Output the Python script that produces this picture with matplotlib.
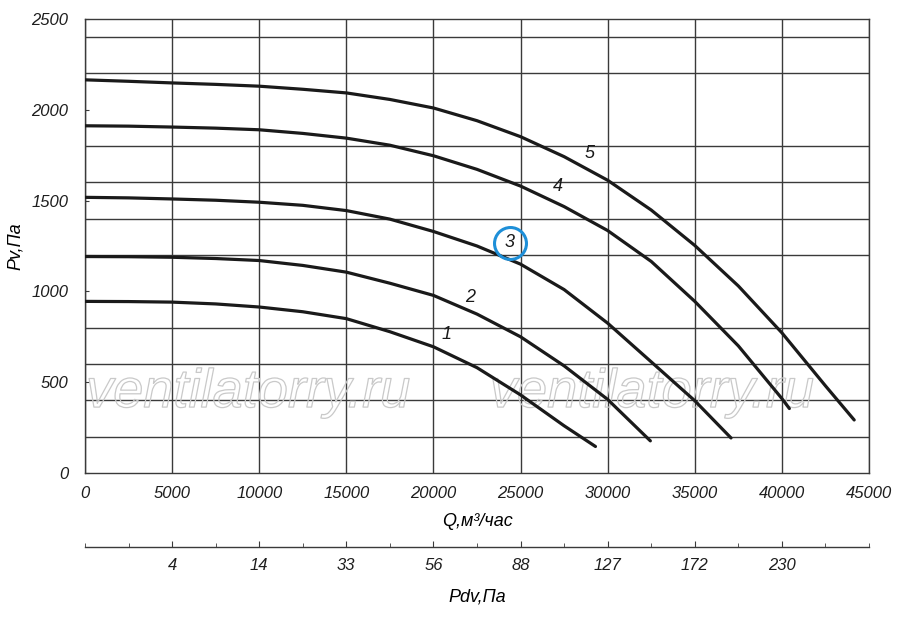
import matplotlib
matplotlib.use("Agg")
import matplotlib.pyplot as plt
import matplotlib.patheffects as pe
import numpy as np

plt.rcParams['font.family'] = ['Liberation Sans', 'DejaVu Sans']

# ---- data ----
q1 = [0, 2500, 5000, 7500, 10000, 12500, 15000, 17500, 20000, 22500, 25000, 27500, 29300]
p1 = [945, 944, 941, 931, 914, 888, 850, 778, 695, 580, 430, 260, 146]

q2 = [0, 2500, 5000, 7500, 10000, 12500, 15000, 17500, 20000, 22500, 25000, 27500, 30000, 32450]
p2 = [1192, 1191, 1188, 1181, 1170, 1143, 1106, 1045, 978, 875, 750, 590, 405, 177]

q3 = [0, 2500, 5000, 7500, 10000, 12500, 15000, 17500, 20000, 22500, 25000, 27500, 30000, 32500, 35000, 37080]
p3 = [1518, 1515, 1509, 1502, 1491, 1474, 1445, 1398, 1330, 1250, 1150, 1010, 825, 612, 398, 193]

q4 = [0, 2500, 5000, 7500, 10000, 12500, 15000, 17500, 20000, 22500, 25000, 27500, 30000, 32500, 35000, 37500, 40000, 40430]
p4 = [1912, 1910, 1905, 1899, 1890, 1870, 1844, 1805, 1747, 1672, 1580, 1467, 1335, 1165, 945, 700, 410, 355]

q5 = [0, 2500, 5000, 7500, 10000, 12500, 15000, 17500, 20000, 22500, 25000, 27500, 30000, 32500, 35000, 37500, 40000, 42500, 44150]
p5 = [2165, 2157, 2148, 2140, 2130, 2113, 2093, 2057, 2010, 1940, 1852, 1742, 1612, 1448, 1253, 1030, 772, 480, 292]

curve_names = ["1", "2", "3", "4", "5"]
q_ticks = [0, 5000, 10000, 15000, 20000, 25000, 30000, 35000, 40000, 45000]
p_ticks = [0, 500, 1000, 1500, 2000, 2500]
pdv_q = [5000, 10000, 15000, 20000, 25000, 30000, 35000, 40000]
pdv_labels = ["4", "14", "33", "56", "88", "127", "172", "230"]

# label anchor positions (annotation placement)
label_pos = [(20723, 760), (22101, 964), (24397, 1267), (27153, 1575), (28990, 1762)]

fig = plt.figure(figsize=(9, 6.2), dpi=100)
L, R = 85 / 900, 869 / 900
B, T = 1 - 473 / 620, 1 - 19 / 620
ax = fig.add_axes([L, B, R - L, T - B])

ax.set_xlim(0, 45000)
ax.set_ylim(0, 2500)

grid_c = '#3a3a3a'
txt_c = '#1e1e1e'
ax.set_xticks(q_ticks)
ax.set_xticklabels([str(v) for v in q_ticks], fontsize=12, style='italic', color=txt_c)
ax.set_yticks(p_ticks)
ax.set_yticklabels([str(v) for v in p_ticks], fontsize=12, style='italic', color=txt_c)
ax.set_yticks(np.arange(0, 2401, 200), minor=True)
ax.tick_params(axis='x', which='major', length=0, pad=9)
ax.tick_params(axis='y', which='major', length=3, direction='in', pad=12, color=grid_c)
ax.tick_params(axis='y', which='minor', length=0)
ax.grid(True, axis='x', which='major', color=grid_c, lw=1.0)
ax.grid(True, axis='y', which='minor', color=grid_c, lw=1.0)
ax.set_axisbelow(True)
for s in ax.spines.values():
    s.set_color(grid_c)
    s.set_linewidth(1.0)

# watermark (outline only)
for xf in (0.208, 0.723):
    ax.text(xf, 0.176, "ventilatorry.ru", transform=ax.transAxes, fontsize=39,
            style='italic', color=(1, 1, 1, 0), ha='center', va='center', zorder=1.5,
            path_effects=[pe.Stroke(linewidth=0.9, foreground='#c9c9c9')])

for q, p in zip([q1, q2, q3, q4, q5], [p1, p2, p3, p4, p5]):
    ax.plot(q, p, color='#1a1a1a', lw=2.3, solid_capstyle='round',
            solid_joinstyle='round', zorder=3)

for name, (lx, ly) in zip(curve_names, label_pos):
    ax.text(lx, ly, name, fontsize=13, style='italic', ha='center', va='center',
            color='#1a1a1a', zorder=4)
ax.plot([label_pos[2][0]], [label_pos[2][1]], 'o', ms=23, mfc='none', mec='#1e8fd8',
        mew=2.2, zorder=4)

ax.set_ylabel("Pv,Па", fontsize=13, style='italic')
ax.yaxis.set_label_coords(-0.078, 0.5)
ax.set_xlabel("Q,м³/час", fontsize=13, style='italic', labelpad=9)

# secondary dynamic-pressure scale
y2 = 1 - 547 / 620
ax2 = fig.add_axes([L, y2, R - L, 0.0001])
ax2.set_xlim(0, 45000)
ax2.set_yticks([])
for k in ('top', 'left', 'right'):
    ax2.spines[k].set_visible(False)
ax2.spines['bottom'].set_color(grid_c)
ax2.spines['bottom'].set_linewidth(1.0)
ax2.patch.set_alpha(0)
ax2.set_xticks(pdv_q)
ax2.set_xticklabels(pdv_labels, fontsize=12, style='italic', color=txt_c)
ax2.set_xticks(np.arange(0, 45001, 2500), minor=True)
ax2.tick_params(axis='x', which='major', direction='in', length=4, pad=8, color=grid_c)
ax2.tick_params(axis='x', which='minor', direction='in', length=3, color=grid_c)
ax2.set_xlabel("Pdv,Па", fontsize=13, style='italic', labelpad=11)

fig.savefig("out.png", dpi=100)
